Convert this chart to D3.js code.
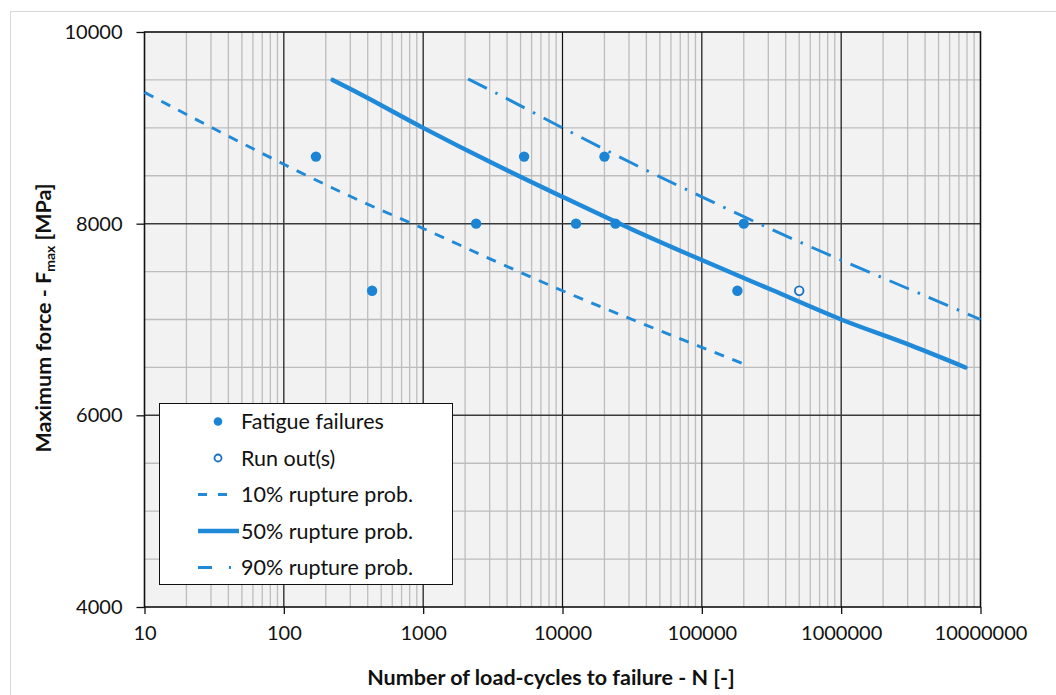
<!DOCTYPE html>
<html>
<head>
<meta charset="utf-8">
<script src="https://cdn.jsdelivr.net/npm/d3@7/dist/d3.min.js"></script>
<style>
  body { margin: 0; background: #fff; }
  text { font-family: Lato, "Open Sans", sans-serif; fill: #111; }
</style>
</head>
<body>
<svg id="chart" width="1056" height="695"></svg>
<script>
// fatigue test results
var failN = [170, 430, 2400, 5300, 12500, 20000, 24000, 180000, 200000];
var failF = [8700, 7300, 8000, 8700, 8000, 8700, 8000, 7300, 8000];
var runN = [500000];
var runF = [7300];

// rupture probability curves
var p10N = [10, 31.6, 100, 316, 1000, 3162, 10000, 31623, 100000, 214000];
var p10F = [9370, 8990, 8620, 8270, 7950, 7620, 7300, 7000, 6710, 6520];
var p50N = [224, 316, 1000, 3162, 10000, 31623, 100000, 316228, 1000000, 3162278, 7800000];
var p50F = [9500, 9390, 9000, 8630, 8280, 7940, 7620, 7310, 7000, 6730, 6500];
var p90N = [2100, 3162, 10000, 31623, 100000, 316228, 1000000, 3162278, 10000000];
var p90F = [9510, 9380, 9000, 8630, 8280, 7940, 7620, 7310, 7000];

var xTicks = [10, 100, 1000, 10000, 100000, 1000000, 10000000];
var yTicks = [4000, 6000, 8000, 10000];

var blue = "#208ad9";

var svg = d3.select("#chart");

// outer frame
svg.append("rect")
    .attr("x", 10.5).attr("y", 11.5)
    .attr("width", 1100).attr("height", 800)
    .attr("fill", "#fff").attr("stroke", "#d9d9d9").attr("stroke-width", 1);

var x = d3.scaleLog().domain([10, 1e7]).range([144.5, 980.5]);
var y = d3.scaleLinear().domain([4000, 10000]).range([607, 32]);

// plot background
svg.append("rect")
    .attr("x", x(10)).attr("y", y(10000))
    .attr("width", x(1e7) - x(10)).attr("height", y(4000) - y(10000))
    .attr("fill", "#f2f2f2");

// minor grid
var minorX = [];
for (var d = 10; d < 1e7; d *= 10) {
    for (var k = 2; k <= 9; k++) minorX.push(d * k);
}
var grid = svg.append("g");
grid.selectAll("line.mx").data(minorX).enter().append("line")
    .attr("x1", function(d){ return x(d); }).attr("x2", function(d){ return x(d); })
    .attr("y1", y(10000)).attr("y2", y(4000))
    .attr("stroke", "#bdbdbd").attr("stroke-width", 1.3);

var minorY = d3.range(4500, 10000, 500).filter(function(v){ return v % 2000 != 0; });
grid.selectAll("line.my").data(minorY).enter().append("line")
    .attr("x1", x(10)).attr("x2", x(1e7))
    .attr("y1", function(d){ return y(d); }).attr("y2", function(d){ return y(d); })
    .attr("stroke", "#bdbdbd").attr("stroke-width", 1.3);

// major grid
grid.selectAll("line.Mx").data(xTicks.slice(1, -1)).enter().append("line")
    .attr("x1", function(d){ return x(d); }).attr("x2", function(d){ return x(d); })
    .attr("y1", y(10000)).attr("y2", y(4000))
    .attr("stroke", "#111").attr("stroke-width", 1.2);
grid.selectAll("line.My").data([6000, 8000]).enter().append("line")
    .attr("x1", x(10)).attr("x2", x(1e7))
    .attr("y1", function(d){ return y(d); }).attr("y2", function(d){ return y(d); })
    .attr("stroke", "#3a3a3a").attr("stroke-width", 1.5);

// plot border
svg.append("rect")
    .attr("x", x(10)).attr("y", y(10000))
    .attr("width", x(1e7) - x(10)).attr("height", y(4000) - y(10000))
    .attr("fill", "none").attr("stroke", "#111").attr("stroke-width", 1.6);

// curves
var line = d3.line()
    .x(function(d){ return x(d[0]); })
    .y(function(d){ return y(d[1]); })
    .curve(d3.curveMonotoneX);

function zip(a, b) { return a.map(function(v, i){ return [v, b[i]]; }); }

svg.append("path").datum(zip(p10N, p10F))
    .attr("d", line).attr("fill", "none")
    .attr("stroke", blue).attr("stroke-width", 2.9)
    .attr("stroke-dasharray", "10,9");
svg.append("path").datum(zip(p50N, p50F))
    .attr("d", line).attr("fill", "none")
    .attr("stroke", blue).attr("stroke-width", 4.4).attr("stroke-linecap", "round");
svg.append("path").datum(zip(p90N, p90F))
    .attr("d", line).attr("fill", "none")
    .attr("stroke", blue).attr("stroke-width", 2.9)
    .attr("stroke-dasharray", "21,9.5,2.5,9.5");

// points
svg.append("g").selectAll("circle").data(zip(failN, failF)).enter().append("circle")
    .attr("cx", function(d){ return x(d[0]); })
    .attr("cy", function(d){ return y(d[1]); })
    .attr("r", 5.2).attr("fill", "#1c84d4");
svg.append("g").selectAll("circle").data(zip(runN, runF)).enter().append("circle")
    .attr("cx", function(d){ return x(d[0]); })
    .attr("cy", function(d){ return y(d[1]); })
    .attr("r", 4.3).attr("fill", "#f2f2f2")
    .attr("stroke", "#1570c2").attr("stroke-width", 1.8);

// axes
var xAxis = d3.axisBottom(x).tickValues(xTicks).tickFormat(d3.format("d"))
    .tickSizeInner(7).tickSizeOuter(0).tickPadding(12);
var gx = svg.append("g").attr("transform", "translate(0," + y(4000) + ")").call(xAxis);
gx.select(".domain").remove();
gx.selectAll("line").attr("stroke", "#111").attr("stroke-width", 1.3);
gx.selectAll("text").style("font-size", "20px").attr("fill", "#111");

var yAxis = d3.axisLeft(y).tickValues(yTicks).tickFormat(d3.format("d"))
    .tickSizeInner(8).tickSizeOuter(0).tickPadding(14);
var gy = svg.append("g").attr("transform", "translate(" + x(10) + ",0)").call(yAxis);
gy.select(".domain").remove();
gy.selectAll("line").attr("stroke", "#111").attr("stroke-width", 1.3);
gy.selectAll("text").style("font-size", "20px").attr("fill", "#111");

// axis titles
svg.append("text")
    .attr("x", 551).attr("y", 685)
    .attr("text-anchor", "middle")
    .style("font-size", "21.5px").style("font-weight", "bold")
    .text("Number of load-cycles to failure - N [-]");

var yt = svg.append("text")
    .attr("transform", "translate(51,318) rotate(-90)")
    .attr("text-anchor", "middle")
    .style("font-size", "21.5px").style("font-weight", "bold");
yt.append("tspan").text("Maximum force - F");
yt.append("tspan").attr("dy", 4).style("font-size", "14px").text("max");
yt.append("tspan").attr("dy", -4).text(" [MPa]");

// legend
var legendLabels = ["Fatigue failures", "Run out(s)", "10% rupture prob.", "50% rupture prob.", "90% rupture prob."];
var lg = svg.append("g");
lg.append("rect")
    .attr("x", 159.5).attr("y", 403.5).attr("width", 293).attr("height", 181)
    .attr("fill", "#fff").attr("stroke", "#111").attr("stroke-width", 1);
var rowY = function(i){ return 421.5 + i * 36.5; };
lg.selectAll("text").data(legendLabels).enter().append("text")
    .attr("x", 241).attr("y", function(d, i){ return rowY(i) + 7.5; })
    .style("font-size", "21.5px")
    .text(function(d){ return d; });
lg.append("circle").attr("cx", 218).attr("cy", rowY(0)).attr("r", 4.3).attr("fill", "#1c84d4");
lg.append("circle").attr("cx", 218).attr("cy", rowY(1)).attr("r", 3.5)
    .attr("fill", "#fff").attr("stroke", "#1570c2").attr("stroke-width", 1.8);
lg.append("line").attr("x1", 198).attr("x2", 230).attr("y1", rowY(2)).attr("y2", rowY(2))
    .attr("stroke", blue).attr("stroke-width", 2.9).attr("stroke-dasharray", "9,11");
lg.append("line").attr("x1", 198).attr("x2", 239).attr("y1", rowY(3)).attr("y2", rowY(3))
    .attr("stroke", blue).attr("stroke-width", 4.4);
lg.append("line").attr("x1", 198).attr("x2", 232).attr("y1", rowY(4)).attr("y2", rowY(4))
    .attr("stroke", blue).attr("stroke-width", 2.9).attr("stroke-dasharray", "14,17,2,20");
</script>
</body>
</html>
